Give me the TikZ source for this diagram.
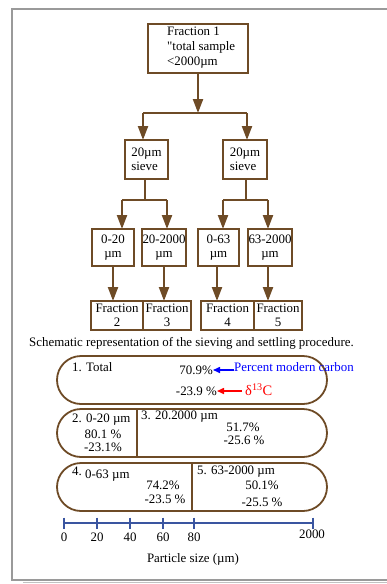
\documentclass[tikz,border=0pt]{standalone}
\usepackage{fontspec}
\setmainfont{Liberation Serif}
\usetikzlibrary{arrows.meta}
\definecolor{brn}{HTML}{6E4B26}
\definecolor{axb}{HTML}{3A55A0}
\definecolor{frm}{HTML}{9A9A9A}
\newcommand{\straightquote}{\XeTeXglyph\XeTeXcharglyph"22\relax}
\tikzset{
  bx/.style={draw=brn,line width=2.2pt,inner sep=0pt},
  con/.style={draw=brn,line width=2.2pt},
  arr/.style={con,-{Triangle[length=14pt,width=10pt]}},
  rb/.style={draw=brn,line width=1.8pt},
  txt/.style={font=\fontsize{12.9}{14}\selectfont,inner sep=0pt},
  ttxt/.style={font=\fontsize{12.9}{15}\selectfont,inner sep=0pt},
  ax/.style={draw=axb,line width=1.6pt},
}
\begin{document}
\begin{tikzpicture}[x=1pt,y=-1pt]
\useasboundingbox (0,0) rectangle (387,584);
% frame
\draw[frm,line width=2pt] (387,9) -- (12,9) -- (12,580) -- (387,580);
\draw[frm!60,line width=1.2pt] (23,582.5) -- (387,582.5);
% top box
\draw[bx] (148,24) rectangle (248,73);
\node[ttxt,align=left,anchor=west] (top) at (167,48) {Fraction 1\\\straightquote total sample\\<2000µm};
\coordinate (topb) at (198,73);
\coordinate (j1) at (198,113);
\coordinate (j1l) at (143,113);
\coordinate (j1r) at (247,113);
% sieve boxes
\draw[bx] (125,140) rectangle (168,179);
\draw[bx] (223,140) rectangle (267,179);
\node[txt,align=left] (s1) at (146.5,159.5) {20µm\\sieve};
\node[txt,align=left] (s2) at (245,159.5) {20µm\\sieve};
\coordinate (s1t) at (143,140);
\coordinate (s2t) at (247,140);
\draw[arr] (topb) -- (j1);
\draw[con] (j1l) -- (j1r);
\draw[arr] (j1l) -- (s1t);
\draw[arr] (j1r) -- (s2t);
% second level
\coordinate (s1b) at (145,179);
\coordinate (s2b) at (246,179);
\coordinate (j2) at (145,200);
\coordinate (j3) at (246,200);
\coordinate (a1) at (122,200);
\coordinate (a2) at (167,200);
\coordinate (a3) at (223,200);
\coordinate (a4) at (268,200);
\draw[con] (s1b) -- (j2);
\draw[con] (s2b) -- (j3);
\draw[con] (a1) -- (a2);
\draw[con] (a3) -- (a4);
\draw[bx] (92,229) rectangle (134,266);
\draw[bx] (142,229) rectangle (186,266);
\draw[bx] (198,229) rectangle (239,266);
\draw[bx] (248,229) rectangle (292,266);
\node[txt,align=center] (m1) at (113,247.5) {0-20\\µm};
\node[txt,align=center] (m2) at (164,247.5) {20-2000\\µm};
\node[txt,align=center] (m3) at (218.5,247.5) {0-63\\µm};
\node[txt,align=center] (m4) at (270,247.5) {63-2000\\µm};
\draw[arr] (a1) -- (122,229);
\draw[arr] (a2) -- (167,229);
\draw[arr] (a3) -- (223,229);
\draw[arr] (a4) -- (268,229);
% fractions
\draw[bx] (91,301) rectangle (143,330);
\draw[bx] (143,301) rectangle (191,330);
\draw[bx] (201,301) rectangle (254,330);
\draw[bx] (254,301) rectangle (302,330);
\node[txt,align=center] (f2) at (117,315.5) {Fraction\\2};
\node[txt,align=center] (f3) at (167,315.5) {Fraction\\3};
\node[txt,align=center] (f4) at (227.5,315.5) {Fraction\\4};
\node[txt,align=center] (f5) at (278,315.5) {Fraction\\5};
\draw[arr] (113,266) -- (113,301);
\draw[arr] (164,266) -- (164,301);
\draw[arr] (217,266) -- (217,301);
\draw[arr] (268,266) -- (268,301);
% caption
\node[txt,anchor=base west] (cap) at (29,346) {Schematic representation of the sieving and settling procedure.};
% rounded boxes
\draw[rb,rounded corners=24pt] (57,356) rectangle (327,404);
\draw[rb,rounded corners=24pt] (57,409) rectangle (327,457);
\draw[rb] (137,409) -- (137,457);
\draw[rb,rounded corners=24pt] (57,463) rectangle (327,511);
\draw[rb] (192,463) -- (192,511);
% box 1
\node[txt,anchor=west] (t1) at (72,367) {1. Total};
\node[txt,anchor=east] (p1) at (213,370) {70.9\%};
\node[txt,anchor=east] (d1) at (217,391) {-23.9 \%};
\node[txt,anchor=west,text=blue] (pmc) at (234,367) {Percent modern carbon};
\node[anchor=west,inner sep=0pt,text=red,font=\fontsize{14.5}{16}\selectfont] (dc) at (245,390) {δ$^{\mathrm{13}}$C};
\draw[blue,line width=1.5pt,-{Triangle[length=7pt,width=6pt]}] (pmc.west) ++(0,3) -- (p1.east);
\draw[red,line width=1.5pt,-{Triangle[length=7pt,width=6pt]}] (242,391) -- (d1.east);
% box 2/3
\node[txt,anchor=west] (t2) at (72,420) {2. 0-20 µm};
\node[txt] (p2) at (103,434) {80.1 \%};
\node[txt] (d2) at (103,447) {-23.1\%};
\node[txt,anchor=west] (t3) at (141,417) {3. 20.2000 µm};
\node[txt] (p3) at (243,427) {51.7\%};
\node[txt] (d3) at (244,440) {-25.6 \%};
% box 4/5
\node[txt,anchor=west] (t4a) at (72,471) {4.};
\node[txt,anchor=west] (t4) at (85,476) {0-63 µm};
\node[txt] (p4) at (163,485) {74.2\%};
\node[txt] (d4) at (165,499) {-23.5 \%};
\node[txt,anchor=west] (t5) at (197,472) {5. 63-2000 µm};
\node[txt] (p5) at (262,485) {50.1\%};
\node[txt] (d5) at (262,502) {-25.5 \%};
% axis
\coordinate (ax0) at (64,523);
\coordinate (ax1) at (313,523);
\draw[ax] (ax0) -- (ax1);
\foreach \x/\l in {64/0,97/20,130/40,163/60,194/80}{
  \draw[ax] (\x,517.5) -- (\x,528.5);
  \node[txt] at (\x,537) {\l};
}
\draw[ax] (313,517.5) -- (313,528.5);
\node[txt] (l2000) at (312,534) {2000};
\node[txt] (xl) at (193,559) {Particle size (µm)};
\end{tikzpicture}
\end{document}
